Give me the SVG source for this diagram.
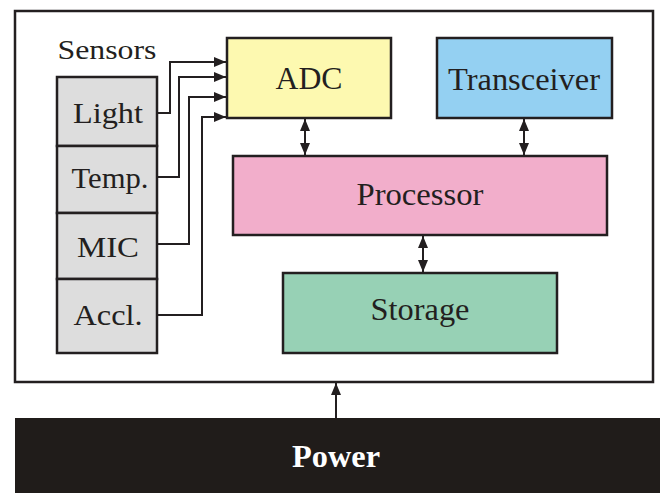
<svg xmlns="http://www.w3.org/2000/svg" width="660" height="493" viewBox="0 0 660 493">
<style>
.box{stroke:#231f20;stroke-width:2.5}
.wire{fill:none;stroke:#231f20;stroke-width:2}
</style>
<defs>
<marker id="ah" viewBox="0 0 12 10" refX="12" refY="5" markerWidth="12" markerHeight="10" markerUnits="userSpaceOnUse" orient="auto-start-reverse">
<path d="M0,0 L12,5 L0,10 Z" fill="#231f20"/>
</marker>
</defs>
<rect width="660" height="493" fill="#fff"/>
<g id="frame"><rect x="15" y="11" width="638" height="371" fill="#fff" class="box"/></g>
<g id="power"><rect x="15" y="418" width="650" height="80" fill="#201c1a"/>
<text x="336" y="467" font-family="Liberation Serif, serif" font-weight="bold" font-size="31" fill="#fff" text-anchor="middle" textLength="88" lengthAdjust="spacingAndGlyphs">Power</text></g>
<g font-family="Liberation Serif, serif" fill="#231f20" text-anchor="middle">
<g id="sensors" font-size="30">
<text x="107" y="59" font-size="28" textLength="99" lengthAdjust="spacingAndGlyphs">Sensors</text>
<rect x="57" y="77" width="100" height="69" fill="#dddddd" class="box"/>
<rect x="57" y="146" width="100" height="67" fill="#dddddd" class="box"/>
<rect x="57" y="213" width="100" height="66" fill="#dddddd" class="box"/>
<rect x="57" y="279" width="100" height="74" fill="#dddddd" class="box"/>
<text x="108" y="123" textLength="70" lengthAdjust="spacingAndGlyphs">Light</text>
<text x="110" y="188" textLength="77" lengthAdjust="spacingAndGlyphs">Temp.</text>
<text x="108" y="257" textLength="62" lengthAdjust="spacingAndGlyphs">MIC</text>
<text x="108" y="325" textLength="69" lengthAdjust="spacingAndGlyphs">Accl.</text>
</g>
<g id="adc" font-size="31"><rect x="227" y="38" width="164" height="80" fill="#fdf9b0" class="box"/><text x="309" y="89" textLength="67" lengthAdjust="spacingAndGlyphs">ADC</text></g>
<g id="transceiver" font-size="31"><rect x="437" y="38" width="175" height="80" fill="#94d0f2" class="box"/><text x="524" y="90" textLength="152" lengthAdjust="spacingAndGlyphs">Transceiver</text></g>
<g id="processor" font-size="31"><rect x="233" y="156" width="374" height="79" fill="#f2aecb" class="box"/><text x="420" y="205" textLength="127" lengthAdjust="spacingAndGlyphs">Processor</text></g>
<g id="storage" font-size="31"><rect x="283" y="273" width="274" height="80" fill="#97d1b5" class="box"/><text x="420" y="320" textLength="99" lengthAdjust="spacingAndGlyphs">Storage</text></g>
</g>
<g id="connectors">
<path class="wire" d="M157,113 H170 V62 H226" marker-end="url(#ah)"/>
<path class="wire" d="M157,177 H179 V77 H226" marker-end="url(#ah)"/>
<path class="wire" d="M157,244 H189 V97 H226" marker-end="url(#ah)"/>
<path class="wire" d="M157,315 H202 V117 H226" marker-end="url(#ah)"/>
<path class="wire" d="M305,119 V155" marker-start="url(#ah)" marker-end="url(#ah)"/>
<path class="wire" d="M524,119 V155" marker-start="url(#ah)" marker-end="url(#ah)"/>
<path class="wire" d="M423,236 V272" marker-start="url(#ah)" marker-end="url(#ah)"/>
<path class="wire" d="M336,418 V383" marker-end="url(#ah)"/>
</g>
</svg>
